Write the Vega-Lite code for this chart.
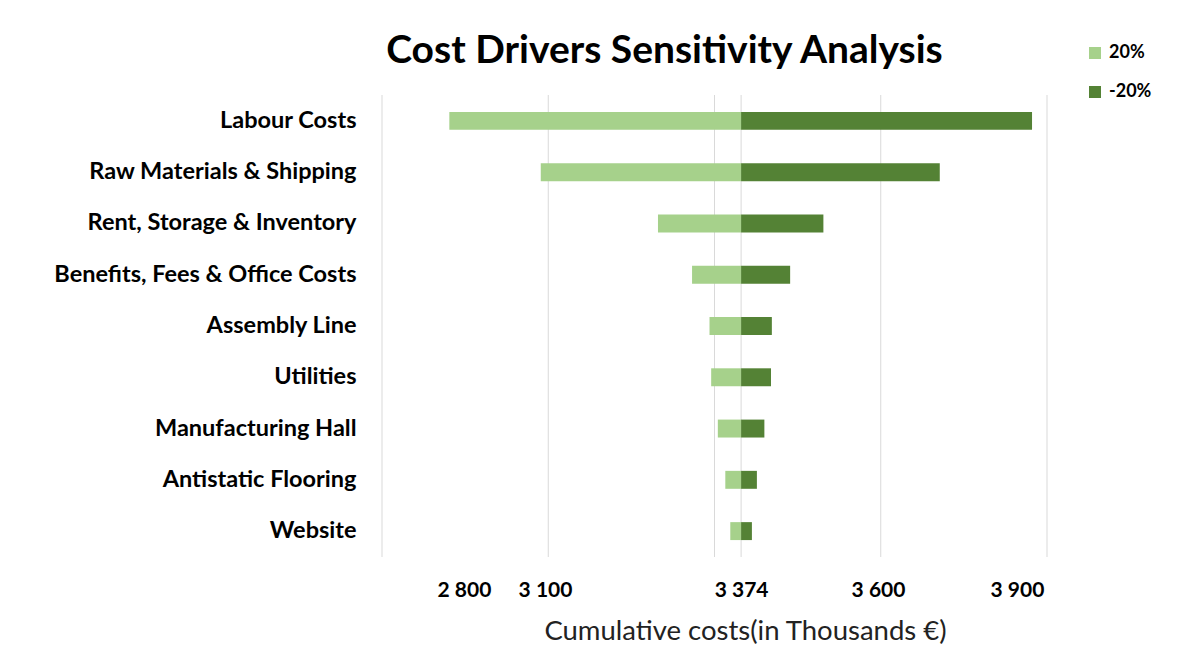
{
  "$schema": "https://vega.github.io/schema/vega-lite/v6.json",
  "autosize": {"type": "none"},
  "width": 665,
  "height": 462,
  "padding": {"left": 382, "top": 95, "right": 143, "bottom": 98},
  "background": "white",
  "config": {
    "font": "Lato",
    "view": {"stroke": null}
  },
  "title": {
    "text": "Cost Drivers Sensitivity Analysis",
    "font": "Lato",
    "fontSize": 39,
    "fontWeight": "bold",
    "color": "#000000",
    "anchor": "middle",
    "dx": -50,
    "offset": -27
  },
  "datasets": {
    "bars": [
      {"driver": "Labour Costs", "order": 1, "series": "20%", "start": 3374, "end": 3023},
      {"driver": "Labour Costs", "order": 1, "series": "-20%", "start": 3374, "end": 3724},
      {"driver": "Raw Materials & Shipping", "order": 2, "series": "20%", "start": 3374, "end": 3133},
      {"driver": "Raw Materials & Shipping", "order": 2, "series": "-20%", "start": 3374, "end": 3613},
      {"driver": "Rent, Storage & Inventory", "order": 3, "series": "20%", "start": 3374, "end": 3274},
      {"driver": "Rent, Storage & Inventory", "order": 3, "series": "-20%", "start": 3374, "end": 3473},
      {"driver": "Benefits, Fees & Office Costs", "order": 4, "series": "20%", "start": 3374, "end": 3315},
      {"driver": "Benefits, Fees & Office Costs", "order": 4, "series": "-20%", "start": 3374, "end": 3433},
      {"driver": "Assembly Line", "order": 5, "series": "20%", "start": 3374, "end": 3336},
      {"driver": "Assembly Line", "order": 5, "series": "-20%", "start": 3374, "end": 3411},
      {"driver": "Utilities", "order": 6, "series": "20%", "start": 3374, "end": 3338},
      {"driver": "Utilities", "order": 6, "series": "-20%", "start": 3374, "end": 3410},
      {"driver": "Manufacturing Hall", "order": 7, "series": "20%", "start": 3374, "end": 3346},
      {"driver": "Manufacturing Hall", "order": 7, "series": "-20%", "start": 3374, "end": 3402},
      {"driver": "Antistatic Flooring", "order": 8, "series": "20%", "start": 3374, "end": 3355},
      {"driver": "Antistatic Flooring", "order": 8, "series": "-20%", "start": 3374, "end": 3393},
      {"driver": "Website", "order": 9, "series": "20%", "start": 3374, "end": 3361},
      {"driver": "Website", "order": 9, "series": "-20%", "start": 3374, "end": 3387}
    ],
    "grid": [
      {"value": 2942}, {"value": 3142}, {"value": 3342}, {"value": 3374}, {"value": 3542}, {"value": 3742}
    ]
  },
  "layer": [
    {
      "data": {"name": "grid"},
      "mark": {"type": "rule", "color": "#d9d9d9", "strokeWidth": 1},
      "encoding": {
        "x": {"field": "value", "type": "quantitative", "scale": {"domain": [2942, 3742], "nice": false, "zero": false}}
      }
    },
    {
      "data": {"name": "bars"},
      "mark": {"type": "bar"},
      "encoding": {
        "y": {
          "field": "driver",
          "type": "nominal",
          "sort": {"field": "order", "op": "min", "order": "ascending"},
          "scale": {"paddingInner": 0.65, "paddingOuter": 0.33},
          "axis": {
            "title": null,
            "domain": false,
            "ticks": false,
            "labelPadding": 26,
            "labelFont": "Lato",
            "labelFontSize": 23.5,
            "labelFontWeight": "bold",
            "labelColor": "#000000",
            "labelLimit": 400
          }
        },
        "x": {
          "field": "start",
          "type": "quantitative",
          "scale": {"domain": [2942, 3742], "nice": false, "zero": false},
          "axis": {
            "values": [3040.6, 3138.1, 3374, 3538.7, 3705.9],
            "labelExpr": "datum.value < 3100 ? '2 800' : datum.value < 3200 ? '3 100' : datum.value < 3400 ? '3 374' : datum.value < 3600 ? '3 600' : '3 900'",
            "grid": false,
            "domain": false,
            "ticks": false,
            "labelPadding": 22,
            "labelFont": "Lato",
            "labelFontSize": 21,
            "labelFontWeight": "bold",
            "labelColor": "#000000",
            "labelFlush": false,
            "title": "Cumulative costs(in Thousands €)",
            "titleFont": "Lato",
            "titleFontSize": 27.5,
            "titleFontWeight": "normal",
            "titleColor": "#222222",
            "titleX": 363,
            "titlePadding": 17
          }
        },
        "x2": {"field": "end"},
        "color": {
          "field": "series",
          "type": "nominal",
          "scale": {"domain": ["20%", "-20%"], "range": ["#a6d18b", "#548235"]},
          "legend": {
            "title": null,
            "orient": "none",
            "legendX": 704,
            "legendY": -51,
            "symbolType": "square",
            "symbolSize": 144,
            "symbolStrokeWidth": 0,
            "labelFont": "Lato",
            "labelFontSize": 18,
            "labelFontWeight": "bold",
            "labelColor": "#000000",
            "rowPadding": 21,
            "labelOffset": 5
          }
        }
      }
    }
  ]
}
